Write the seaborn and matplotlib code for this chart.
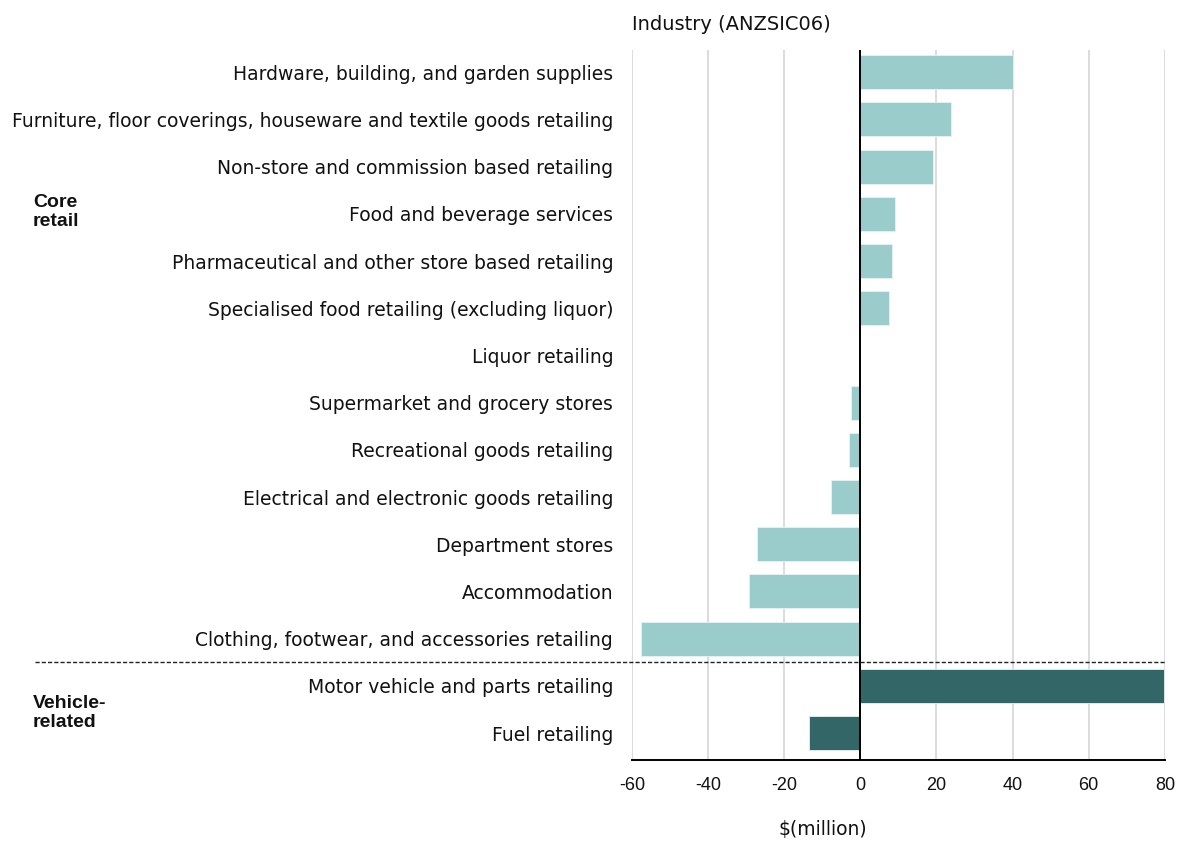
import matplotlib
matplotlib.use("Agg")
import matplotlib.pyplot as plt
import seaborn as sns
import pandas as pd

industries = [
    "Hardware, building, and garden supplies",
    "Furniture, floor coverings, houseware and textile goods retailing",
    "Non-store and commission based retailing",
    "Food and beverage services",
    "Pharmaceutical and other store based retailing",
    "Specialised food retailing (excluding liquor)",
    "Liquor retailing",
    "Supermarket and grocery stores",
    "Recreational goods retailing",
    "Electrical and electronic goods retailing",
    "Department stores",
    "Accommodation",
    "Clothing, footwear, and accessories retailing",
    "Motor vehicle and parts retailing",
    "Fuel retailing",
]
change_millions = [40.1, 23.9, 19.2, 9.1, 8.2, 7.6, 0.0, -2.4, -2.9, -7.7,
                   -27.1, -29.3, -57.7, 79.8, -13.4]
groups = ["Core retail"] * 13 + ["Vehicle-related"] * 2
group_labels = ["Core\nretail", "Vehicle-\nrelated"]
x_ticks = [-60, -40, -20, 0, 20, 40, 60, 80]

df = pd.DataFrame({"industry": industries, "value": change_millions, "group": groups})

sns.set_theme(style="white")
plt.rcParams["font.family"] = ["DejaVu Sans"]

LABEL_FONT = "DejaVu Sans"
NUM_FONT = "Liberation Sans"
TEXT_COLOR = "#111111"

fig = plt.figure(figsize=(11.79, 8.41), dpi=100)
ax = fig.add_axes([0.536, 0.0963, 0.452, 0.8442])

sns.barplot(
    data=df, y="industry", x="value", hue="group", orient="h",
    palette={"Core retail": "#9BCCCC", "Vehicle-related": "#336666"},
    saturation=1, width=0.72, edgecolor="#E6F3F3", linewidth=0.6,
    legend=False, ax=ax, zorder=3,
)

ax.set_xlim(x_ticks[0], x_ticks[-1])
ax.set_ylim(len(industries) - 1 + 0.57, -0.47)
ax.set_xticks(x_ticks)
ax.set_xticklabels([str(t) for t in x_ticks], fontsize=13, family=NUM_FONT,
                   color=TEXT_COLOR)
for lbl in ax.get_yticklabels():
    lbl.set_fontfamily(LABEL_FONT)
    lbl.set_fontsize(13.5)
    lbl.set_color(TEXT_COLOR)
ax.tick_params(axis="y", length=0, pad=13.5)
ax.tick_params(axis="x", length=0, pad=12)
ax.set_xlabel("")
ax.set_ylabel("")

for t in x_ticks:
    ax.axvline(t, color="#D9D9D9", lw=1.3, zorder=0)
ax.axvline(0, color="black", lw=1.4, zorder=4)

for side in ["top", "right", "left"]:
    ax.spines[side].set_visible(False)
ax.spines["bottom"].set_color("black")
ax.spines["bottom"].set_linewidth(1.4)

# dashed divider between the two industry groups
ax.axhline(12.5, xmin=-1.12, xmax=1.0, color="#222222", lw=1.0,
           linestyle=(0, (3, 1.5)), clip_on=False, zorder=5)

for label, ypix in zip(group_labels, [212, 713]):
    fig.text(0.028, 1 - ypix / 841, label, fontsize=14, fontweight="bold",
             family="Liberation Sans", ha="left", va="center",
             linespacing=1.2, color=TEXT_COLOR)

fig.text(632 / 1179, 1 - 25 / 841, "Industry (ANZSIC06)", fontsize=14,
         family=LABEL_FONT, ha="left", va="center", color=TEXT_COLOR)
fig.text(823 / 1179, 1 - 830 / 841, "$(million)", fontsize=13.5,
         family=LABEL_FONT, ha="center", va="center", color=TEXT_COLOR)

fig.savefig("out.png", dpi=100)
